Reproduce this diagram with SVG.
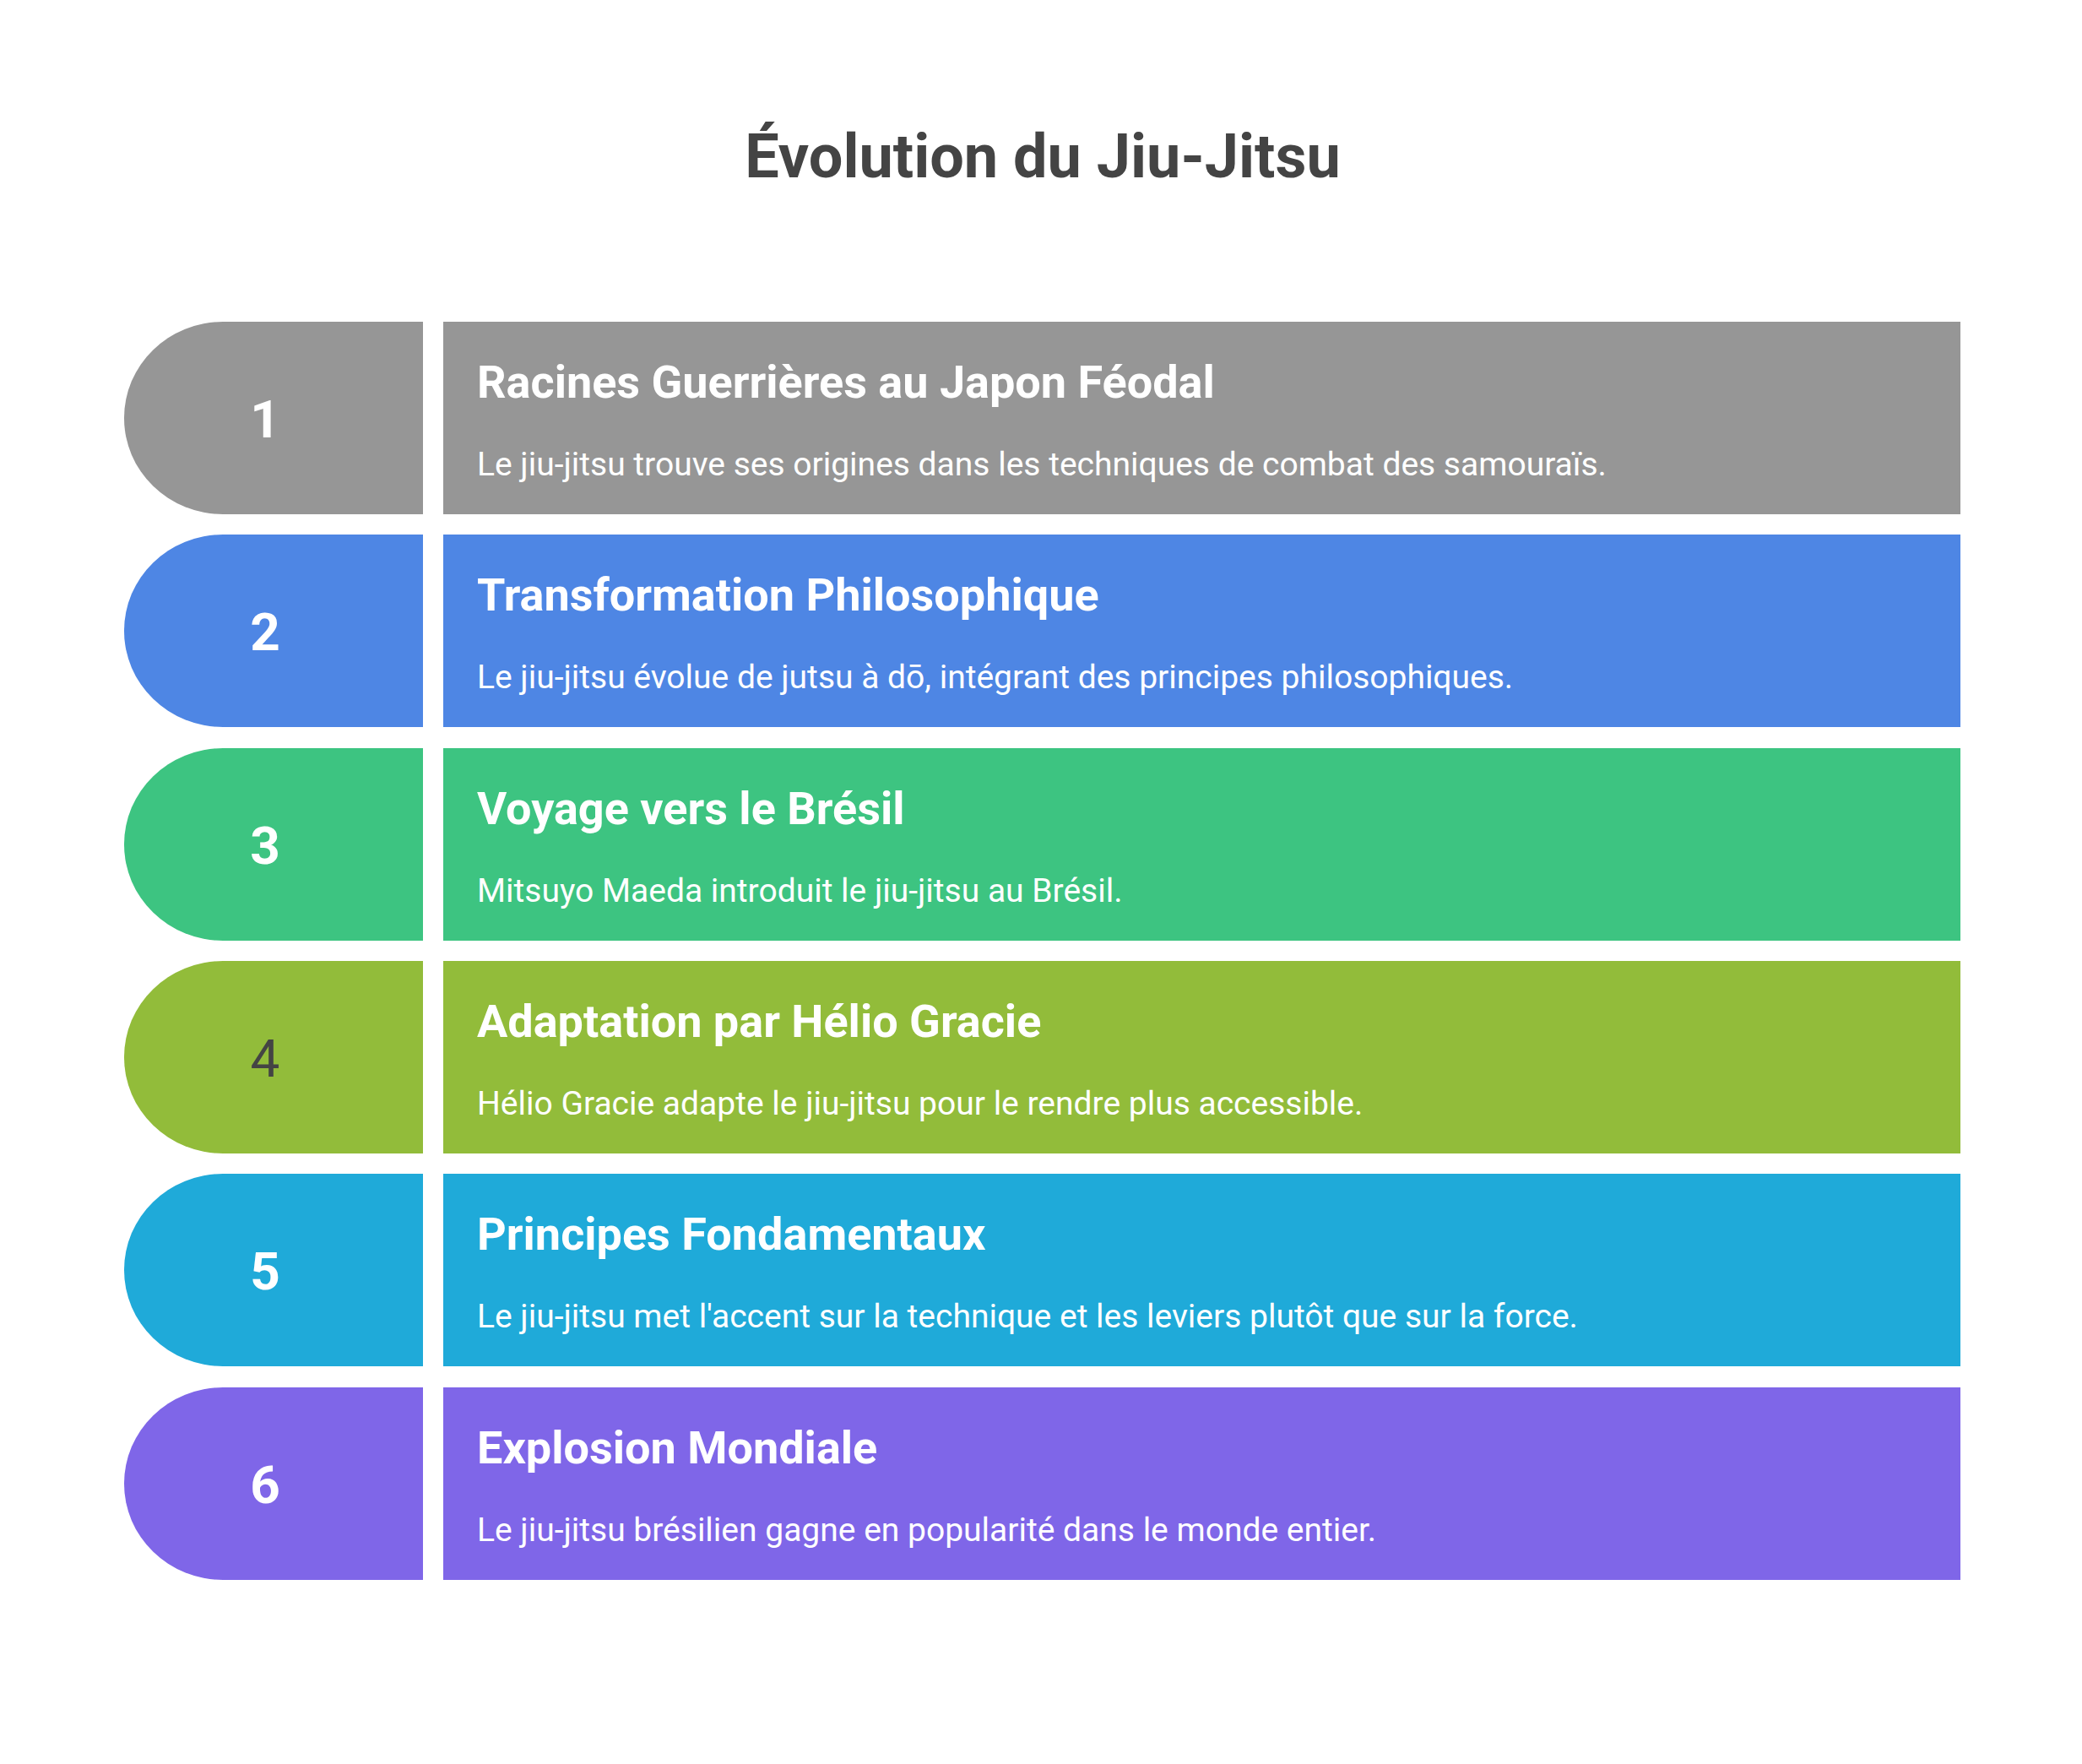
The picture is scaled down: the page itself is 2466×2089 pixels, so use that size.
<svg xmlns="http://www.w3.org/2000/svg" width="2466" height="2089" viewBox="0 0 2466 2089">
<style>
.t{font-family:Roboto,"Liberation Sans",sans-serif;fill:#fff}
.h{font-size:54px;font-weight:bold}
.d{font-size:39px}
.n{font-size:62px;font-weight:bold;text-anchor:middle}
</style>
<rect width="2466" height="2089" fill="#fff"/>
<text x="1235" y="210" text-anchor="middle" font-family="Roboto,'Liberation Sans',sans-serif" font-size="72" font-weight="bold" fill="#444">Évolution du Jiu-Jitsu</text>
<g id="n1" transform="translate(0,381)"><path d="M501,0 H264 A117,114 0 0 0 264,228 H501 Z" fill="#969696"/><rect x="525" y="0" width="1797" height="228" fill="#969696"/><text class="t n" x="314" y="137">1</text><text class="t h" x="565" y="90">Racines Guerrières au Japon Féodal</text><text class="t d" x="565" y="182">Le jiu-jitsu trouve ses origines dans les techniques de combat des samouraïs.</text></g>
<g id="n2" transform="translate(0,633)"><path d="M501,0 H264 A117,114 0 0 0 264,228 H501 Z" fill="#4E86E4"/><rect x="525" y="0" width="1797" height="228" fill="#4E86E4"/><text class="t n" x="314" y="137">2</text><text class="t h" x="565" y="90">Transformation Philosophique</text><text class="t d" x="565" y="182">Le jiu-jitsu évolue de jutsu à dō, intégrant des principes philosophiques.</text></g>
<g id="n3" transform="translate(0,886)"><path d="M501,0 H264 A117,114 0 0 0 264,228 H501 Z" fill="#3DC481"/><rect x="525" y="0" width="1797" height="228" fill="#3DC481"/><text class="t n" x="314" y="137">3</text><text class="t h" x="565" y="90">Voyage vers le Brésil</text><text class="t d" x="565" y="182">Mitsuyo Maeda introduit le jiu-jitsu au Brésil.</text></g>
<g id="n4" transform="translate(0,1138)"><path d="M501,0 H264 A117,114 0 0 0 264,228 H501 Z" fill="#92BC3A"/><rect x="525" y="0" width="1797" height="228" fill="#92BC3A"/><text class="t n" x="314" y="137" style="fill:#444;font-weight:normal">4</text><text class="t h" x="565" y="90">Adaptation par Hélio Gracie</text><text class="t d" x="565" y="182">Hélio Gracie adapte le jiu-jitsu pour le rendre plus accessible.</text></g>
<g id="n5" transform="translate(0,1390)"><path d="M501,0 H264 A117,114 0 0 0 264,228 H501 Z" fill="#1FAAD9"/><rect x="525" y="0" width="1797" height="228" fill="#1FAAD9"/><text class="t n" x="314" y="137">5</text><text class="t h" x="565" y="90">Principes Fondamentaux</text><text class="t d" x="565" y="182">Le jiu-jitsu met l'accent sur la technique et les leviers plutôt que sur la force.</text></g>
<g id="n6" transform="translate(0,1643)"><path d="M501,0 H264 A117,114 0 0 0 264,228 H501 Z" fill="#7F66E8"/><rect x="525" y="0" width="1797" height="228" fill="#7F66E8"/><text class="t n" x="314" y="137">6</text><text class="t h" x="565" y="90">Explosion Mondiale</text><text class="t d" x="565" y="182">Le jiu-jitsu brésilien gagne en popularité dans le monde entier.</text></g>
<g id="connectors"/>
</svg>
